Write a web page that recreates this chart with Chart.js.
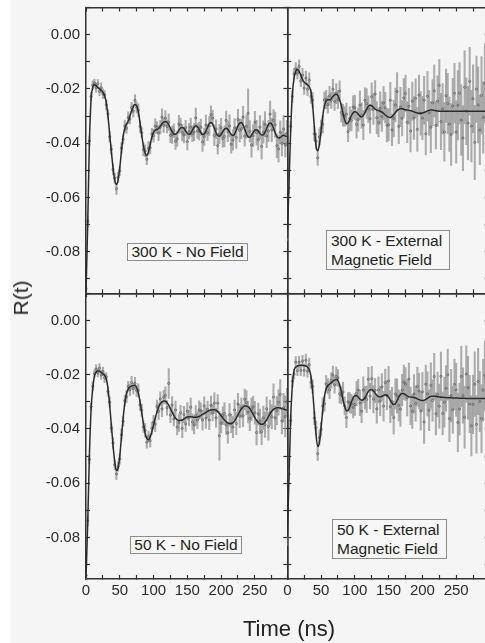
<!DOCTYPE html>
<html lang="en">
<head>
<meta charset="UTF-8">
<title>R(t)</title>
<script src="https://cdn.jsdelivr.net/npm/chart.js"></script>
<style>
  body { margin: 0; width: 485px; height: 643px; overflow: hidden; position: relative; background: #fff;
         font-family: "Liberation Sans", Arial, Helvetica, sans-serif; color: #222; }
  #bg { position: absolute; left: 10px; top: 0; right: 0; bottom: 0; background: #f5f5f5; }
  canvas { position: absolute; left: 0; top: 0; }
  .box { position: absolute; box-sizing: border-box; border: 1px solid #8c8c8c; background: #f7f7f7;
         font-size: 15.5px; white-space: nowrap; color: #222; }
  .one { text-align: center; line-height: 16px; }
  .two { padding-left: 4px; line-height: 19px; padding-top: 0px; }
  #ylab { position: absolute; left: 21px; top: 298px; font-size: 21px; white-space: nowrap;
          transform: translate(-50%, -50%) rotate(-90deg); }
  #xlab { position: absolute; left: 289px; top: 618px; font-size: 22px; line-height: 22px; white-space: nowrap;
          transform: translateX(-50%); }
</style>
</head>
<body>
<div id="bg"></div>
<canvas id="tl" width="500" height="643"></canvas>
<canvas id="tr" width="500" height="643"></canvas>
<canvas id="bl" width="500" height="643"></canvas>
<canvas id="br" width="500" height="643"></canvas>

<div class="box one" style="left:127px; top:243px; width:121px; height:18px;">300 K - No Field</div>
<div class="box two" style="left:326px; top:230px; width:124px; height:40px;">300 K - External<br>Magnetic Field</div>
<div class="box one" style="left:130px; top:536px; width:112px; height:18px;">50 K - No Field</div>
<div class="box two" style="left:332px; top:519px; width:115px; height:40px;">50 K - External<br>Magnetic Field</div>
<div id="ylab">R(t)</div>
<div id="xlab">Time (ns)</div>

<script>
// time grid, one sample every 2.5 ns
var times = [];
for (var i = 0; i < 120; i++) times.push(i * 2.5);

// 300 K, no field
var tlData = [
  -0.0935, -0.0688, -0.0392, -0.0228, -0.0186, -0.0178, -0.0196, -0.0181, -0.0209, -0.0196,
  -0.0218, -0.0221, -0.0259, -0.0292, -0.0376, -0.0423, -0.0497, -0.0529, -0.0568, -0.0526,
  -0.0502, -0.0418, -0.0386, -0.0336, -0.0345, -0.0306, -0.0311, -0.0269, -0.0281, -0.0242,
  -0.0268, -0.0279, -0.0339, -0.0361, -0.0423, -0.0428, -0.0459, -0.0419, -0.0417, -0.0366,
  -0.0372, -0.0337, -0.0342, -0.0362, -0.0341, -0.0304, -0.0334, -0.0308, -0.0338, -0.0323,
  -0.0371, -0.0369, -0.0354, -0.0393, -0.0384, -0.0330, -0.0333, -0.0361, -0.0370, -0.0343,
  -0.0394, -0.0356, -0.0341, -0.0365, -0.0359, -0.0307, -0.0355, -0.0356, -0.0341, -0.0395,
  -0.0376, -0.0333, -0.0361, -0.0336, -0.0295, -0.0308, -0.0371, -0.0348, -0.0409, -0.0366,
  -0.0343, -0.0383, -0.0375, -0.0316, -0.0357, -0.0336, -0.0404, -0.0388, -0.0344, -0.0379,
  -0.0313, -0.0353, -0.0347, -0.0304, -0.0374, -0.0338, -0.0290, -0.0356, -0.0407, -0.0372,
  -0.0323, -0.0361, -0.0387, -0.0341, -0.0412, -0.0359, -0.0330, -0.0374, -0.0355, -0.0293,
  -0.0351, -0.0316, -0.0332, -0.0409, -0.0421, -0.0360, -0.0401, -0.0348, -0.0407, -0.0363
];
var tlErr = [
  0.0020, 0.0020, 0.0018, 0.0015, 0.0016, 0.0014, 0.0017, 0.0015, 0.0016, 0.0018,
  0.0017, 0.0015, 0.0018, 0.0016, 0.0019, 0.0017, 0.0020, 0.0018, 0.0021, 0.0019,
  0.0018, 0.0020, 0.0017, 0.0021, 0.0019, 0.0022, 0.0018, 0.0020, 0.0023, 0.0021,
  0.0020, 0.0023, 0.0021, 0.0019, 0.0024, 0.0022, 0.0020, 0.0025, 0.0022, 0.0021,
  0.0024, 0.0027, 0.0022, 0.0029, 0.0025, 0.0031, 0.0026, 0.0028, 0.0024, 0.0030,
  0.0027, 0.0032, 0.0025, 0.0030, 0.0028, 0.0033, 0.0026, 0.0031, 0.0029, 0.0027,
  0.0031, 0.0028, 0.0034, 0.0029, 0.0032, 0.0036, 0.0027, 0.0033, 0.0030, 0.0035,
  0.0032, 0.0037, 0.0030, 0.0035, 0.0033, 0.0029, 0.0038, 0.0034, 0.0031, 0.0036,
  0.0035, 0.0032, 0.0039, 0.0034, 0.0037, 0.0041, 0.0033, 0.0038, 0.0035, 0.0040,
  0.0038, 0.0042, 0.0036, 0.0040, 0.0037, 0.0043, 0.0090, 0.0039, 0.0044, 0.0041,
  0.0040, 0.0045, 0.0038, 0.0043, 0.0047, 0.0041, 0.0046, 0.0042, 0.0039, 0.0048,
  0.0043, 0.0040, 0.0047, 0.0044, 0.0049, 0.0042, 0.0046, 0.0050, 0.0044, 0.0047
];
var tlFit = [
  -0.0950, -0.0700, -0.0400, -0.0240, -0.0195, -0.0185, -0.0188, -0.0195, -0.0200, -0.0205,
  -0.0212, -0.0225, -0.0250, -0.0300, -0.0365, -0.0430, -0.0490, -0.0535, -0.0552, -0.0535,
  -0.0490, -0.0430, -0.0375, -0.0345, -0.0330, -0.0318, -0.0300, -0.0280, -0.0265, -0.0257,
  -0.0262, -0.0285, -0.0325, -0.0370, -0.0410, -0.0437, -0.0445, -0.0432, -0.0405, -0.0378,
  -0.0360, -0.0352, -0.0350, -0.0346, -0.0338, -0.0328, -0.0322, -0.0320, -0.0323, -0.0332,
  -0.0345, -0.0358, -0.0366, -0.0367, -0.0362, -0.0352, -0.0344, -0.0342, -0.0346, -0.0355,
  -0.0363, -0.0367, -0.0363, -0.0352, -0.0341, -0.0336, -0.0339, -0.0349, -0.0361, -0.0368,
  -0.0366, -0.0355, -0.0341, -0.0328, -0.0324, -0.0330, -0.0345, -0.0361, -0.0372, -0.0374,
  -0.0368, -0.0357, -0.0348, -0.0345, -0.0349, -0.0358, -0.0368, -0.0372, -0.0366, -0.0352,
  -0.0336, -0.0326, -0.0324, -0.0333, -0.0349, -0.0365, -0.0376, -0.0378, -0.0371, -0.0360,
  -0.0352, -0.0350, -0.0355, -0.0364, -0.0370, -0.0369, -0.0360, -0.0345, -0.0332, -0.0326,
  -0.0330, -0.0344, -0.0361, -0.0375, -0.0381, -0.0379, -0.0374, -0.0371, -0.0373, -0.0376
];

// 300 K, external magnetic field
var trData = [
  -0.0740, -0.0565, -0.0338, -0.0228, -0.0145, -0.0126, -0.0142, -0.0117, -0.0170, -0.0149,
  -0.0197, -0.0160, -0.0201, -0.0168, -0.0228, -0.0241, -0.0365, -0.0393, -0.0454, -0.0377,
  -0.0343, -0.0330, -0.0241, -0.0239, -0.0258, -0.0225, -0.0242, -0.0201, -0.0246, -0.0217,
  -0.0239, -0.0208, -0.0287, -0.0297, -0.0301, -0.0293, -0.0357, -0.0309, -0.0316, -0.0267,
  -0.0269, -0.0331, -0.0313, -0.0260, -0.0298, -0.0333, -0.0242, -0.0254, -0.0274, -0.0310,
  -0.0229, -0.0274, -0.0219, -0.0306, -0.0324, -0.0271, -0.0302, -0.0252, -0.0269, -0.0334,
  -0.0332, -0.0242, -0.0351, -0.0309, -0.0259, -0.0210, -0.0338, -0.0266, -0.0308, -0.0233,
  -0.0217, -0.0323, -0.0264, -0.0355, -0.0245, -0.0307, -0.0235, -0.0349, -0.0223, -0.0290,
  -0.0307, -0.0242, -0.0365, -0.0227, -0.0288, -0.0341, -0.0251, -0.0207, -0.0334, -0.0245,
  -0.0187, -0.0320, -0.0273, -0.0358, -0.0225, -0.0254, -0.0330, -0.0368, -0.0263, -0.0216,
  -0.0359, -0.0260, -0.0216, -0.0315, -0.0381, -0.0194, -0.0282, -0.0326, -0.0172, -0.0337,
  -0.0236, -0.0397, -0.0201, -0.0259, -0.0351, -0.0224, -0.0305, -0.0179, -0.0374, -0.0270
];
var trErr = [
  0.0020, 0.0021, 0.0019, 0.0022, 0.0020, 0.0023, 0.0021, 0.0024, 0.0022, 0.0025,
  0.0023, 0.0026, 0.0024, 0.0027, 0.0025, 0.0028, 0.0026, 0.0029, 0.0027, 0.0030,
  0.0028, 0.0032, 0.0029, 0.0034, 0.0031, 0.0035, 0.0030, 0.0036, 0.0033, 0.0037,
  0.0034, 0.0038, 0.0035, 0.0040, 0.0036, 0.0041, 0.0037, 0.0043, 0.0039, 0.0042,
  0.0045, 0.0050, 0.0043, 0.0052, 0.0047, 0.0054, 0.0046, 0.0055, 0.0049, 0.0053,
  0.0051, 0.0057, 0.0050, 0.0059, 0.0053, 0.0060, 0.0055, 0.0062, 0.0056, 0.0061,
  0.0060, 0.0066, 0.0058, 0.0068, 0.0062, 0.0070, 0.0064, 0.0072, 0.0065, 0.0071,
  0.0068, 0.0075, 0.0066, 0.0077, 0.0070, 0.0079, 0.0072, 0.0081, 0.0074, 0.0080,
  0.0080, 0.0088, 0.0078, 0.0091, 0.0083, 0.0094, 0.0085, 0.0096, 0.0087, 0.0093,
  0.0095, 0.0104, 0.0093, 0.0108, 0.0098, 0.0111, 0.0100, 0.0114, 0.0102, 0.0110,
  0.0115, 0.0128, 0.0113, 0.0130, 0.0120, 0.0134, 0.0123, 0.0136, 0.0125, 0.0132,
  0.0125, 0.0137, 0.0122, 0.0140, 0.0128, 0.0143, 0.0131, 0.0146, 0.0133, 0.0141
];
var trFit = [
  -0.0750, -0.0550, -0.0350, -0.0220, -0.0160, -0.0135, -0.0128, -0.0135, -0.0150, -0.0165,
  -0.0175, -0.0180, -0.0185, -0.0192, -0.0210, -0.0260, -0.0340, -0.0410, -0.0428, -0.0405,
  -0.0355, -0.0300, -0.0262, -0.0245, -0.0240, -0.0240, -0.0236, -0.0228, -0.0222, -0.0220,
  -0.0225, -0.0240, -0.0262, -0.0290, -0.0315, -0.0328, -0.0325, -0.0312, -0.0298, -0.0288,
  -0.0284, -0.0286, -0.0293, -0.0300, -0.0303, -0.0298, -0.0287, -0.0274, -0.0264, -0.0260,
  -0.0262, -0.0268, -0.0274, -0.0278, -0.0280, -0.0282, -0.0285, -0.0290, -0.0296, -0.0301,
  -0.0304, -0.0305, -0.0302, -0.0295, -0.0287, -0.0280, -0.0275, -0.0273, -0.0273, -0.0275,
  -0.0277, -0.0278, -0.0279, -0.0280, -0.0282, -0.0284, -0.0287, -0.0289, -0.0290, -0.0290,
  -0.0289, -0.0287, -0.0284, -0.0281, -0.0279, -0.0278, -0.0278, -0.0279, -0.0280, -0.0281,
  -0.0282, -0.0282, -0.0282, -0.0282, -0.0282, -0.0282, -0.0282, -0.0282, -0.0282, -0.0282,
  -0.0282, -0.0282, -0.0282, -0.0282, -0.0282, -0.0282, -0.0282, -0.0282, -0.0282, -0.0282,
  -0.0282, -0.0282, -0.0282, -0.0282, -0.0282, -0.0282, -0.0282, -0.0282, -0.0282, -0.0282
];

// 50 K, no field
var blData = [
  -0.0940, -0.0738, -0.0512, -0.0318, -0.0243, -0.0196, -0.0179, -0.0193, -0.0176, -0.0201,
  -0.0188, -0.0211, -0.0208, -0.0262, -0.0301, -0.0397, -0.0452, -0.0532, -0.0566, -0.0538,
  -0.0511, -0.0421, -0.0372, -0.0296, -0.0281, -0.0243, -0.0256, -0.0229, -0.0251, -0.0232,
  -0.0259, -0.0258, -0.0312, -0.0331, -0.0392, -0.0405, -0.0449, -0.0428, -0.0443, -0.0398,
  -0.0375, -0.0382, -0.0317, -0.0335, -0.0289, -0.0326, -0.0283, -0.0276, -0.0322, -0.0232,
  -0.0349, -0.0312, -0.0363, -0.0330, -0.0393, -0.0377, -0.0340, -0.0398, -0.0347, -0.0381,
  -0.0335, -0.0359, -0.0320, -0.0374, -0.0385, -0.0350, -0.0367, -0.0330, -0.0333, -0.0367,
  -0.0315, -0.0360, -0.0328, -0.0367, -0.0313, -0.0340, -0.0305, -0.0359, -0.0305, -0.0425,
  -0.0379, -0.0351, -0.0343, -0.0385, -0.0414, -0.0348, -0.0380, -0.0393, -0.0330, -0.0380,
  -0.0308, -0.0352, -0.0322, -0.0351, -0.0291, -0.0303, -0.0338, -0.0361, -0.0327, -0.0318,
  -0.0340, -0.0413, -0.0345, -0.0372, -0.0410, -0.0359, -0.0384, -0.0326, -0.0391, -0.0340,
  -0.0355, -0.0283, -0.0359, -0.0332, -0.0302, -0.0273, -0.0370, -0.0322, -0.0354, -0.0300
];
var blErr = [
  0.0019, 0.0018, 0.0016, 0.0015, 0.0017, 0.0014, 0.0016, 0.0015, 0.0017, 0.0016,
  0.0016, 0.0018, 0.0015, 0.0017, 0.0019, 0.0016, 0.0020, 0.0018, 0.0021, 0.0018,
  0.0019, 0.0021, 0.0018, 0.0020, 0.0022, 0.0019, 0.0021, 0.0023, 0.0020, 0.0022,
  0.0021, 0.0024, 0.0020, 0.0023, 0.0021, 0.0025, 0.0022, 0.0020, 0.0024, 0.0023,
  0.0025, 0.0028, 0.0023, 0.0030, 0.0026, 0.0029, 0.0025, 0.0031, 0.0027, 0.0055,
  0.0028, 0.0031, 0.0026, 0.0033, 0.0029, 0.0032, 0.0027, 0.0034, 0.0030, 0.0028,
  0.0032, 0.0029, 0.0035, 0.0030, 0.0033, 0.0036, 0.0031, 0.0034, 0.0029, 0.0037,
  0.0033, 0.0038, 0.0031, 0.0036, 0.0034, 0.0030, 0.0039, 0.0035, 0.0032, 0.0090,
  0.0036, 0.0033, 0.0040, 0.0035, 0.0038, 0.0042, 0.0034, 0.0039, 0.0036, 0.0041,
  0.0039, 0.0043, 0.0037, 0.0041, 0.0038, 0.0044, 0.0040, 0.0045, 0.0042, 0.0039,
  0.0042, 0.0046, 0.0040, 0.0045, 0.0048, 0.0043, 0.0047, 0.0044, 0.0050, 0.0046,
  0.0045, 0.0049, 0.0044, 0.0052, 0.0047, 0.0055, 0.0048, 0.0053, 0.0075, 0.0050
];
var blFit = [
  -0.0950, -0.0750, -0.0500, -0.0330, -0.0250, -0.0205, -0.0190, -0.0185, -0.0187, -0.0192,
  -0.0197, -0.0202, -0.0215, -0.0250, -0.0310, -0.0385, -0.0460, -0.0520, -0.0553, -0.0545,
  -0.0500, -0.0430, -0.0360, -0.0305, -0.0270, -0.0252, -0.0245, -0.0242, -0.0240, -0.0240,
  -0.0248, -0.0268, -0.0300, -0.0340, -0.0380, -0.0415, -0.0435, -0.0440, -0.0430, -0.0410,
  -0.0385, -0.0360, -0.0338, -0.0320, -0.0307, -0.0300, -0.0297, -0.0298, -0.0303, -0.0312,
  -0.0325, -0.0338, -0.0350, -0.0360, -0.0366, -0.0369, -0.0369, -0.0367, -0.0363, -0.0359,
  -0.0356, -0.0355, -0.0355, -0.0356, -0.0357, -0.0357, -0.0356, -0.0354, -0.0350, -0.0346,
  -0.0343, -0.0339, -0.0335, -0.0332, -0.0330, -0.0329, -0.0329, -0.0331, -0.0336, -0.0343,
  -0.0351, -0.0359, -0.0367, -0.0373, -0.0378, -0.0380, -0.0380, -0.0377, -0.0370, -0.0360,
  -0.0348, -0.0336, -0.0326, -0.0319, -0.0315, -0.0315, -0.0318, -0.0325, -0.0335, -0.0346,
  -0.0358, -0.0368, -0.0376, -0.0381, -0.0383, -0.0381, -0.0375, -0.0366, -0.0355, -0.0344,
  -0.0335, -0.0328, -0.0324, -0.0322, -0.0322, -0.0323, -0.0325, -0.0327, -0.0329, -0.0330
];

// 50 K, external magnetic field
var brData = [
  -0.0812, -0.0566, -0.0369, -0.0224, -0.0198, -0.0154, -0.0185, -0.0154, -0.0184, -0.0150,
  -0.0184, -0.0147, -0.0187, -0.0163, -0.0228, -0.0243, -0.0360, -0.0396, -0.0491, -0.0432,
  -0.0401, -0.0315, -0.0307, -0.0234, -0.0243, -0.0256, -0.0221, -0.0201, -0.0238, -0.0206,
  -0.0212, -0.0270, -0.0276, -0.0264, -0.0315, -0.0358, -0.0300, -0.0304, -0.0307, -0.0320,
  -0.0310, -0.0269, -0.0256, -0.0304, -0.0335, -0.0256, -0.0285, -0.0291, -0.0217, -0.0279,
  -0.0215, -0.0290, -0.0258, -0.0326, -0.0256, -0.0297, -0.0245, -0.0316, -0.0229, -0.0276,
  -0.0223, -0.0318, -0.0299, -0.0358, -0.0271, -0.0278, -0.0313, -0.0327, -0.0257, -0.0228,
  -0.0235, -0.0285, -0.0216, -0.0315, -0.0335, -0.0271, -0.0306, -0.0244, -0.0260, -0.0333,
  -0.0263, -0.0374, -0.0235, -0.0271, -0.0331, -0.0240, -0.0295, -0.0207, -0.0344, -0.0273,
  -0.0316, -0.0206, -0.0343, -0.0301, -0.0250, -0.0200, -0.0362, -0.0277, -0.0329, -0.0235,
  -0.0256, -0.0376, -0.0327, -0.0207, -0.0277, -0.0357, -0.0198, -0.0248, -0.0308, -0.0388,
  -0.0309, -0.0235, -0.0383, -0.0225, -0.0299, -0.0362, -0.0257, -0.0204, -0.0351, -0.0246
];
var brErr = [
  0.0018, 0.0019, 0.0017, 0.0020, 0.0018, 0.0021, 0.0019, 0.0022, 0.0020, 0.0021,
  0.0021, 0.0023, 0.0022, 0.0024, 0.0023, 0.0025, 0.0024, 0.0026, 0.0025, 0.0027,
  0.0026, 0.0029, 0.0027, 0.0031, 0.0028, 0.0032, 0.0029, 0.0033, 0.0030, 0.0034,
  0.0031, 0.0035, 0.0032, 0.0036, 0.0033, 0.0037, 0.0034, 0.0038, 0.0035, 0.0039,
  0.0040, 0.0045, 0.0039, 0.0047, 0.0042, 0.0048, 0.0041, 0.0049, 0.0044, 0.0047,
  0.0046, 0.0051, 0.0045, 0.0053, 0.0048, 0.0054, 0.0049, 0.0055, 0.0050, 0.0054,
  0.0054, 0.0059, 0.0052, 0.0061, 0.0056, 0.0063, 0.0057, 0.0064, 0.0058, 0.0063,
  0.0061, 0.0067, 0.0059, 0.0069, 0.0063, 0.0071, 0.0065, 0.0072, 0.0066, 0.0071,
  0.0072, 0.0079, 0.0070, 0.0082, 0.0075, 0.0084, 0.0076, 0.0086, 0.0078, 0.0083,
  0.0081, 0.0089, 0.0079, 0.0092, 0.0084, 0.0094, 0.0085, 0.0097, 0.0087, 0.0093,
  0.0098, 0.0108, 0.0096, 0.0112, 0.0102, 0.0114, 0.0104, 0.0116, 0.0106, 0.0111,
  0.0108, 0.0119, 0.0106, 0.0122, 0.0111, 0.0125, 0.0114, 0.0128, 0.0116, 0.0122
];
var brFit = [
  -0.0800, -0.0580, -0.0360, -0.0240, -0.0185, -0.0172, -0.0168, -0.0166, -0.0165, -0.0165,
  -0.0166, -0.0168, -0.0172, -0.0182, -0.0205, -0.0260, -0.0340, -0.0420, -0.0465, -0.0450,
  -0.0395, -0.0330, -0.0280, -0.0252, -0.0240, -0.0235, -0.0230, -0.0225, -0.0220, -0.0218,
  -0.0222, -0.0238, -0.0262, -0.0292, -0.0318, -0.0333, -0.0332, -0.0318, -0.0300, -0.0285,
  -0.0278, -0.0278, -0.0283, -0.0290, -0.0294, -0.0292, -0.0285, -0.0273, -0.0262, -0.0256,
  -0.0255, -0.0260, -0.0268, -0.0276, -0.0281, -0.0282, -0.0280, -0.0276, -0.0274, -0.0276,
  -0.0283, -0.0294, -0.0305, -0.0310, -0.0307, -0.0296, -0.0283, -0.0273, -0.0269, -0.0270,
  -0.0274, -0.0278, -0.0281, -0.0282, -0.0283, -0.0284, -0.0286, -0.0289, -0.0292, -0.0294,
  -0.0295, -0.0294, -0.0291, -0.0287, -0.0283, -0.0280, -0.0279, -0.0279, -0.0280, -0.0281,
  -0.0282, -0.0283, -0.0283, -0.0284, -0.0284, -0.0285, -0.0285, -0.0285, -0.0286, -0.0286,
  -0.0286, -0.0286, -0.0287, -0.0287, -0.0287, -0.0287, -0.0288, -0.0288, -0.0288, -0.0288,
  -0.0288, -0.0288, -0.0288, -0.0288, -0.0288, -0.0288, -0.0288, -0.0288, -0.0288, -0.0288
];

// axis ranges
var tMin = 0, tMax = 298;
var rMin = -0.0953, rMax = 0.0100;

// panel edges in page pixels
var X0 = 86, XM = 287.3, X1 = 488.6;
var Y0 = 7.5, YM = 293.3, Y1 = 579;
var CW = 500, CH = 643;

Chart.defaults.font.family = '"Liberation Sans", Arial, Helvetica, sans-serif';
Chart.defaults.color = '#2a2a2a';

function xLabel(v) {
    return v % 50 === 0 ? String(v) : '';
}
function yLabel(v) {
    var k = Math.round(v * 100);
    return k % 2 === 0 ? (k / 100).toFixed(2) : '';
}

function axis(position, isX, labels, size) {
    return {
        type: 'linear',
        position: position,
        min: isX ? tMin : rMin,
        max: isX ? tMax : rMax,
        offset: false,
        grid: {
            display: true, drawOnChartArea: false, drawTicks: true, offset: false,
            tickLength: -4, tickColor: '#333', tickWidth: 1.2
        },
        border: { display: true, color: '#333', width: 1.5 },
        ticks: {
            display: labels,
            stepSize: isX ? 25 : 0.01,
            maxTicksLimit: 20,
            autoSkip: false,
            maxRotation: 0,
            minRotation: 0,
            includeBounds: false,
            padding: isX ? 7 : 10,
            font: { size: 15 },
            color: '#2a2a2a',
            callback: isX ? xLabel : yLabel
        },
        afterFit: function (s) {
            if (s.isHorizontal()) s.height = size; else s.width = size;
            s.paddingLeft = 0; s.paddingRight = 0; s.paddingTop = 0; s.paddingBottom = 0;
        }
    };
}

function panel(id, vals, errs, fit, left, right, top, bottom, yLabels, xLabels) {
    var yW = yLabels ? 40 : 0;
    var xH = xLabels ? 30 : 0;
    var pts = [], bars = [], line = [];
    for (var i = 0; i < times.length; i++) {
        pts.push({ x: times[i], y: vals[i] });
        bars.push({ x: times[i], y: [vals[i] - errs[i], vals[i] + errs[i]] });
        line.push({ x: times[i], y: fit[i] });
    }
    new Chart(document.getElementById(id), {
        type: 'line',
        data: {
            datasets: [
                {
                    type: 'line', data: line, borderColor: '#2b2b2b', borderWidth: 1.5,
                    pointRadius: 0, cubicInterpolationMode: 'monotone', fill: false, order: 0
                },
                {
                    type: 'scatter', data: pts, pointRadius: 1.1, pointBorderWidth: 0.8,
                    borderColor: '#606060', backgroundColor: 'rgba(0,0,0,0)', order: 1
                },
                {
                    type: 'bar', data: bars, backgroundColor: 'rgba(145,145,145,0.75)',
                    barThickness: 1.4, borderWidth: 0, order: 2
                }
            ]
        },
        options: {
            responsive: false,
            animation: false,
            devicePixelRatio: 1,
            events: [],
            layout: {
                autoPadding: false,
                padding: { left: left - yW, right: CW - right, top: top, bottom: CH - bottom - xH }
            },
            plugins: { legend: { display: false }, tooltip: { enabled: false } },
            scales: {
                x: axis('bottom', true, xLabels, xH),
                x2: axis('top', true, false, 0),
                y: axis('left', false, yLabels, yW),
                y2: axis('right', false, false, 0)
            }
        }
    });
}

panel('tl', tlData, tlErr, tlFit, X0, XM, Y0, YM, true, false);
panel('tr', trData, trErr, trFit, XM, X1, Y0, YM, false, false);
panel('bl', blData, blErr, blFit, X0, XM, YM, Y1, true, true);
panel('br', brData, brErr, brFit, XM, X1, YM, Y1, false, true);
</script>
</body>
</html>
